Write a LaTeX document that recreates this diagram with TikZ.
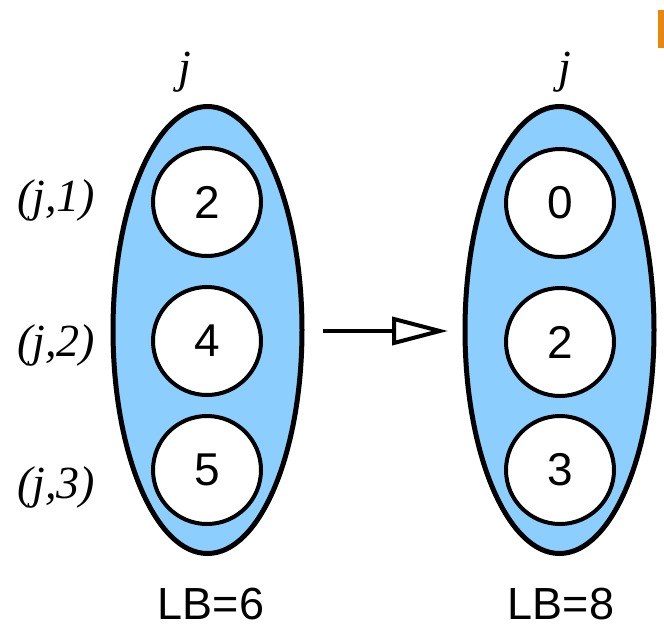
\documentclass[tikz,border=0pt]{standalone}
\usepackage{fontspec}
\setmainfont{Liberation Sans}
\newfontfamily\serifit{Liberation Serif}
\usetikzlibrary{arrows.meta}
\definecolor{setblue}{HTML}{8CCFFF}
\definecolor{barorange}{HTML}{E8870E}
\begin{document}
\begin{tikzpicture}[x=1pt,y=-1pt,
  setshape/.style={draw=black,line width=5pt,fill=setblue},
  elem/.style={circle,draw=black,line width=4pt,fill=white,minimum size=108pt,inner sep=0pt,font=\fontsize{46}{46}\selectfont},
  lbl/.style={font=\serifit\itshape\fontsize{46}{46}\selectfont},
  lb/.style={font=\fontsize{45}{45}\selectfont,anchor=base,text depth=0pt,inner sep=1pt}]
\useasboundingbox (0,0) rectangle (664,629);
\fill[barorange] (658,10) rectangle (664,48);
\draw[setshape] (207.5,330) ellipse (94.5pt and 223.5pt);
\draw[setshape] (559.5,330) ellipse (94.5pt and 223.5pt);
\node[elem] (a1) at (207,202) {2};
\node[elem] (a2) at (207,341) {4};
\node[elem] (a3) at (207,470) {5};
\node[elem] (b1) at (560,203) {0};
\node[elem] (b2) at (560,342) {2};
\node[elem] (b3) at (560,470) {3};
\node[lbl] (ja) at (185,72) {j};
\node[lbl] (jb) at (565,72) {j};
\node[lbl] (r1) at (56,200) {(j,1)};
\node[lbl] (r2) at (56,345) {(j,2)};
\node[lbl] (r3) at (56,487) {(j,3)};
\node[lb] (lba) at (211,619) {LB=6};
\node[lb] (lbb) at (561,619) {LB=8};
\coordinate (s) at (323,331);
\coordinate (t) at (448,331);
\draw[line width=4pt,-{Triangle[open,length=56pt,width=28pt,line width=4pt]}] (s) -- (t);
\end{tikzpicture}
\end{document}
